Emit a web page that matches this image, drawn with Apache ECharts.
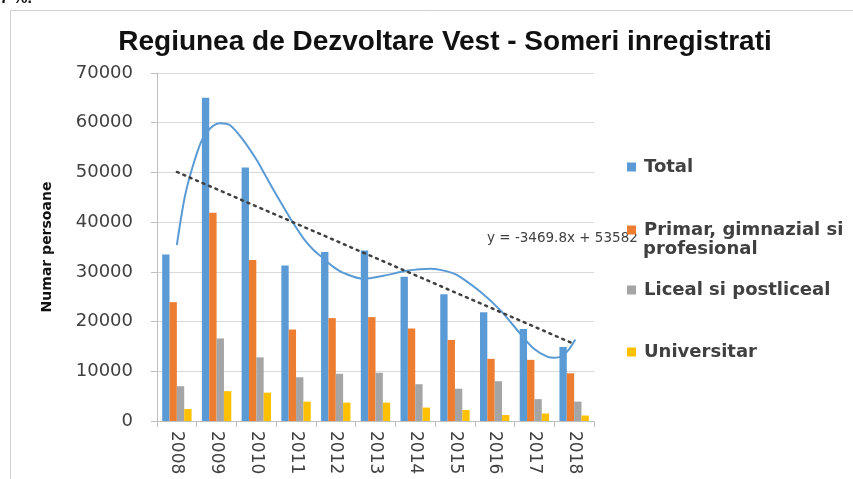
<!DOCTYPE html>
<html>
<head>
<meta charset="utf-8">
<script src="https://cdn.jsdelivr.net/npm/echarts@6/dist/echarts.min.js"></script>
<style>
  html, body { margin: 0; padding: 0; background: #fff; }
  #chart { width: 853px; height: 479px; }
</style>
</head>
<body>
<div id="chart"></div>
<script>
// years on the x axis
const years = ['2008', '2009', '2010', '2011', '2012', '2013', '2014', '2015', '2016', '2017', '2018'];

// registered unemployed, by education level
const total = [33500, 65000, 51000, 31300, 34000, 34300, 29000, 25500, 21900, 18500, 14900];
const primar = [23900, 41900, 32400, 18400, 20700, 20900, 18600, 16300, 12500, 12300, 9600];
const liceal = [7000, 16600, 12800, 8800, 9500, 9700, 7400, 6500, 8000, 4400, 3900];
const universitar = [2400, 6000, 5700, 3900, 3700, 3700, 2700, 2200, 1200, 1500, 1100];

// polynomial trend of Total (position in year slots, value)
const polyTrend = [
  [0.5, 35400], [0.7, 45100], [0.91, 51500], [1.13, 56500], [1.34, 58900],
  [1.59, 59900], [1.84, 59500], [2.17, 56500], [2.51, 52500], [2.68, 50100],
  [2.93, 46500], [3.18, 43100], [3.43, 39800], [3.69, 36700], [3.94, 34400],
  [4.19, 32700], [4.44, 31000], [4.69, 29800], [5.2, 28600], [5.7, 29200],
  [6.29, 30200], [6.88, 30600], [7.13, 30400], [7.46, 29700], [7.63, 29000],
  [8.14, 26000], [8.64, 22300], [9.14, 17600], [9.48, 14600], [9.82, 12950],
  [10.0, 12700], [10.2, 13100], [10.36, 14300], [10.53, 16400]
];
// linear trend end points
const linTrend = [[0.5, 50100], [10.5, 15500]];
const linTrendLabel = 'y = -3469.8x + 53582';

const yTicks = { min: 0, max: 70000, step: 10000 };

const chart = echarts.init(document.getElementById('chart'));
const txt = '#404040';
const axisGray = '#bfbfbf';

const legendItem = (name, top, label) => ({
  left: 622,
  top: top,
  orient: 'vertical',
  data: [name],
  icon: 'rect',
  itemWidth: 9,
  itemHeight: 9,
  selectedMode: false,
  formatter: label ? () => label : undefined,
  textStyle: { fontFamily: 'DejaVu Sans', fontWeight: 'bold', fontSize: 18, color: txt, padding: [0, 0, 0, 3] }
});

const option = {
  animation: false,
  title: {
    text: 'Regiunea de Dezvoltare Vest - Someri inregistrati',
    left: 440,
    textAlign: 'center',
    top: 23,
    textStyle: { fontFamily: 'Liberation Sans', fontWeight: 'bold', fontSize: 28, color: '#111' }
  },
  legend: [
    legendItem('Total', 153),
    legendItem('Primar, gimnazial si profesional', 216, 'Primar, gimnazial si'),
    legendItem('Liceal si postliceal', 276),
    legendItem('Universitar', 338)
  ],
  grid: { left: 157, right: 259, top: 73, bottom: 58 },
  xAxis: [{
    type: 'category',
    data: years,
    axisLine: { lineStyle: { color: axisGray } },
    axisTick: { show: true, length: 6, lineStyle: { color: axisGray } },
    axisLabel: { rotate: -90, margin: 10, fontFamily: 'DejaVu Sans', fontSize: 17, color: txt }
  }, {
    type: 'value',
    min: 0,
    max: 11,
    show: false
  }],
  yAxis: {
    type: 'value',
    min: yTicks.min,
    max: yTicks.max,
    interval: yTicks.step,
    name: 'Numar persoane',
    nameLocation: 'middle',
    nameGap: 103,
    nameTextStyle: { fontFamily: 'DejaVu Sans', fontWeight: 'bold', fontSize: 14, color: '#111' },
    axisLine: { show: true, lineStyle: { color: axisGray } },
    axisTick: { show: true, length: 6, lineStyle: { color: axisGray } },
    axisLabel: { margin: 24, fontFamily: 'DejaVu Sans', fontSize: 18, color: txt, formatter: v => String(v) },
    splitLine: { lineStyle: { color: '#d9d9d9' } }
  },
  series: [
    { name: 'Total', type: 'bar', data: total, itemStyle: { color: '#5b9bd5' }, barGap: '0%', barCategoryGap: '26%' },
    { name: 'Primar, gimnazial si profesional', type: 'bar', data: primar, itemStyle: { color: '#ed7d31' } },
    { name: 'Liceal si postliceal', type: 'bar', data: liceal, itemStyle: { color: '#a5a5a5' } },
    { name: 'Universitar', type: 'bar', data: universitar, itemStyle: { color: '#ffc000' } },
    {
      name: 'Poly. (Total)', type: 'line', xAxisIndex: 1, data: polyTrend,
      smooth: 0.3, showSymbol: false, lineStyle: { color: '#5b9bd5', width: 2 }, z: 5
    },
    {
      name: 'Linear (Total)', type: 'line', xAxisIndex: 1, data: linTrend,
      showSymbol: false, lineStyle: { color: '#404040', width: 2.5, type: [2, 5], cap: 'round' }, z: 6
    }
  ],
  graphic: [
    { type: 'line', shape: { x1: 10.5, y1: 10.5, x2: 853, y2: 10.5 }, style: { stroke: '#d0d0d0', lineWidth: 1 } },
    { type: 'line', shape: { x1: 10.5, y1: 10.5, x2: 10.5, y2: 479 }, style: { stroke: '#d0d0d0', lineWidth: 1 } },
    { type: 'text', left: 0, top: -9, style: { text: '7 %.', font: 'bold 16px "Liberation Sans"', fill: '#111' } },
    { type: 'text', left: 643, top: 240, style: { text: 'profesional', font: 'bold 18px "DejaVu Sans"', fill: txt } },
    { type: 'text', left: 487, top: 231, style: { text: linTrendLabel, font: '13.5px "DejaVu Sans"', fill: txt } }
  ]
};

chart.setOption(option);
</script>
</body>
</html>
